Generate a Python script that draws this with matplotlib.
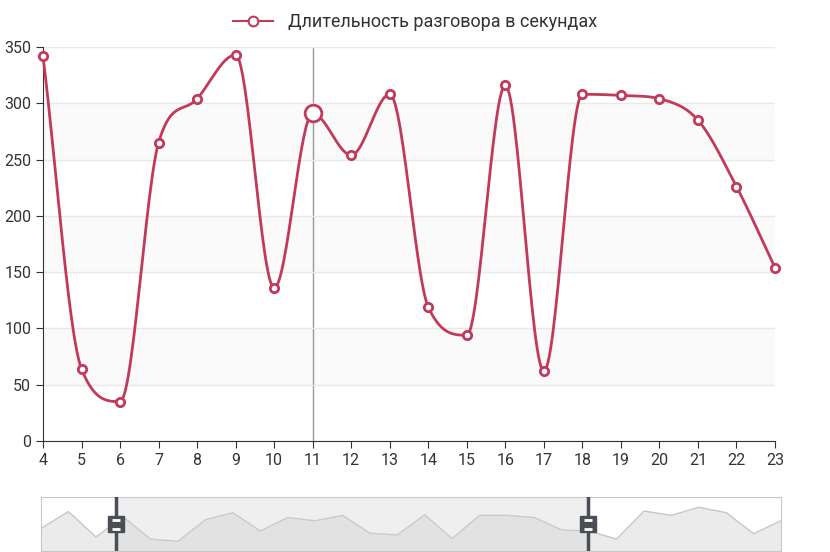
import numpy as np
import matplotlib.pyplot as plt
from matplotlib.lines import Line2D

plt.rcParams['font.family'] = ['Roboto', 'DejaVu Sans']

hours = list(range(4, 24))
durations = [342, 64, 35, 265, 304, 343, 136, 291, 254, 308, 119, 94, 316, 62, 308, 307, 304, 285, 226, 154]
label = 'Длительность разговора в секундах'
# overview shape drawn in the zoom slider (0..1 scale)
overview = [0.42, 0.73, 0.26, 0.63, 0.22, 0.18, 0.58, 0.71, 0.37, 0.62, 0.56, 0.66, 0.33, 0.30,
            0.67, 0.23, 0.66, 0.66, 0.62, 0.39, 0.37, 0.22, 0.74, 0.66, 0.81, 0.71, 0.32, 0.56]
win_lo, win_hi = 2.74, 19.96
hover = 11
red = '#c23a5a'


def smooth(x, y, n=30, t=0.5):
    x = np.asarray(x, float); y = np.asarray(y, float)
    m = np.zeros(len(x))
    for i in range(len(x)):
        p0 = max(i - 1, 0); p3 = min(i + 1, len(x) - 1)
        if 0 < i < len(x) - 1 and (y[i] - y[p0]) * (y[p3] - y[i]) <= 0:
            m[i] = 0  # flat at local extrema, no overshoot
        else:
            m[i] = t * (y[p3] - y[p0]) / (x[p3] - x[p0]) * 2
            lim = 3 * min(abs(y[i] - y[p0]) if i > 0 else 1e9, abs(y[p3] - y[i]) if i < len(x) - 1 else 1e9)
            m[i] = np.clip(m[i], -lim, lim)
    xs, ys = [], []
    for i in range(len(x) - 1):
        s = np.linspace(0, 1, n)
        h00 = 2*s**3 - 3*s**2 + 1; h10 = s**3 - 2*s**2 + s
        h01 = -2*s**3 + 3*s**2; h11 = s**3 - s**2
        xs.append(x[i] + s * (x[i + 1] - x[i]))
        ys.append(h00*y[i] + h10*m[i] + h01*y[i+1] + h11*m[i+1])
    return np.concatenate(xs), np.concatenate(ys)


fig = plt.figure(figsize=(8.3, 5.52), dpi=100)
ax = fig.add_axes([43/830, 1 - 441/552, 732/830, 394/552])
for k in range(0, 350, 100):
    ax.axhspan(k + 50, k + 100, color='#fafafa', zorder=0)
ax.set_xlim(4, 23); ax.set_ylim(0, 350)
ax.set_yticks(range(0, 351, 50)); ax.set_xticks(hours)
ax.grid(axis='y', color='#e8e8e8', lw=1)
for s in ['top', 'right']:
    ax.spines[s].set_visible(False)
for s in ['left', 'bottom']:
    ax.spines[s].set_color('#333333')
ax.tick_params(colors='#333333', labelsize=11.5, length=5)
ax.axvline(hover, color='#999999', lw=1, zorder=1)
sx, sy = smooth(hours, durations)
ax.plot(sx, sy, color=red, lw=2, zorder=3, clip_on=False)
ax.plot(hours, durations, 'o', ms=6, mfc='white', mec=red, mew=2, zorder=4, clip_on=False)
hi = hours.index(hover)
ax.plot(hover, durations[hi], 'o', ms=12, mfc='white', mec=red, mew=2, zorder=5)

h = Line2D([], [], color=red, marker='o', ms=7, mfc='white', mew=1.5, lw=1.5)
fig.legend([h], [label], loc='upper center', bbox_to_anchor=(0.5, 1.005), frameon=False,
           fontsize=13, handlelength=2.2, labelcolor='#333333')

# zoom slider
sl = fig.add_axes([41/830, 1 - 551/552, 740/830, 54/552])
ox = np.arange(len(overview))
sl.set_xlim(0, len(overview) - 1); sl.set_ylim(0, 1)
sl.fill_between(ox, overview, color='#ebebeb', zorder=1)
sl.plot(ox, overview, color='#c8c8c8', lw=1, zorder=2)
sl.axvspan(win_lo, win_hi, color='#d2d2d2', alpha=0.35, zorder=3)
for xv in (win_lo, win_hi):
    sl.axvline(xv, color='#4a4f55', lw=2.5, zorder=4)
    sl.plot(xv, 0.5, marker='s', ms=11, color='#4a4f55', zorder=5)
    sl.plot(xv, 0.58, marker='_', ms=6, mew=2, color='white', zorder=6)
    sl.plot(xv, 0.40, marker='_', ms=6, mew=2, color='white', zorder=6)
sl.set_xticks([]); sl.set_yticks([])
for s in sl.spines.values():
    s.set_color('#c8c8c8')

fig.savefig('out.png', dpi=100)
